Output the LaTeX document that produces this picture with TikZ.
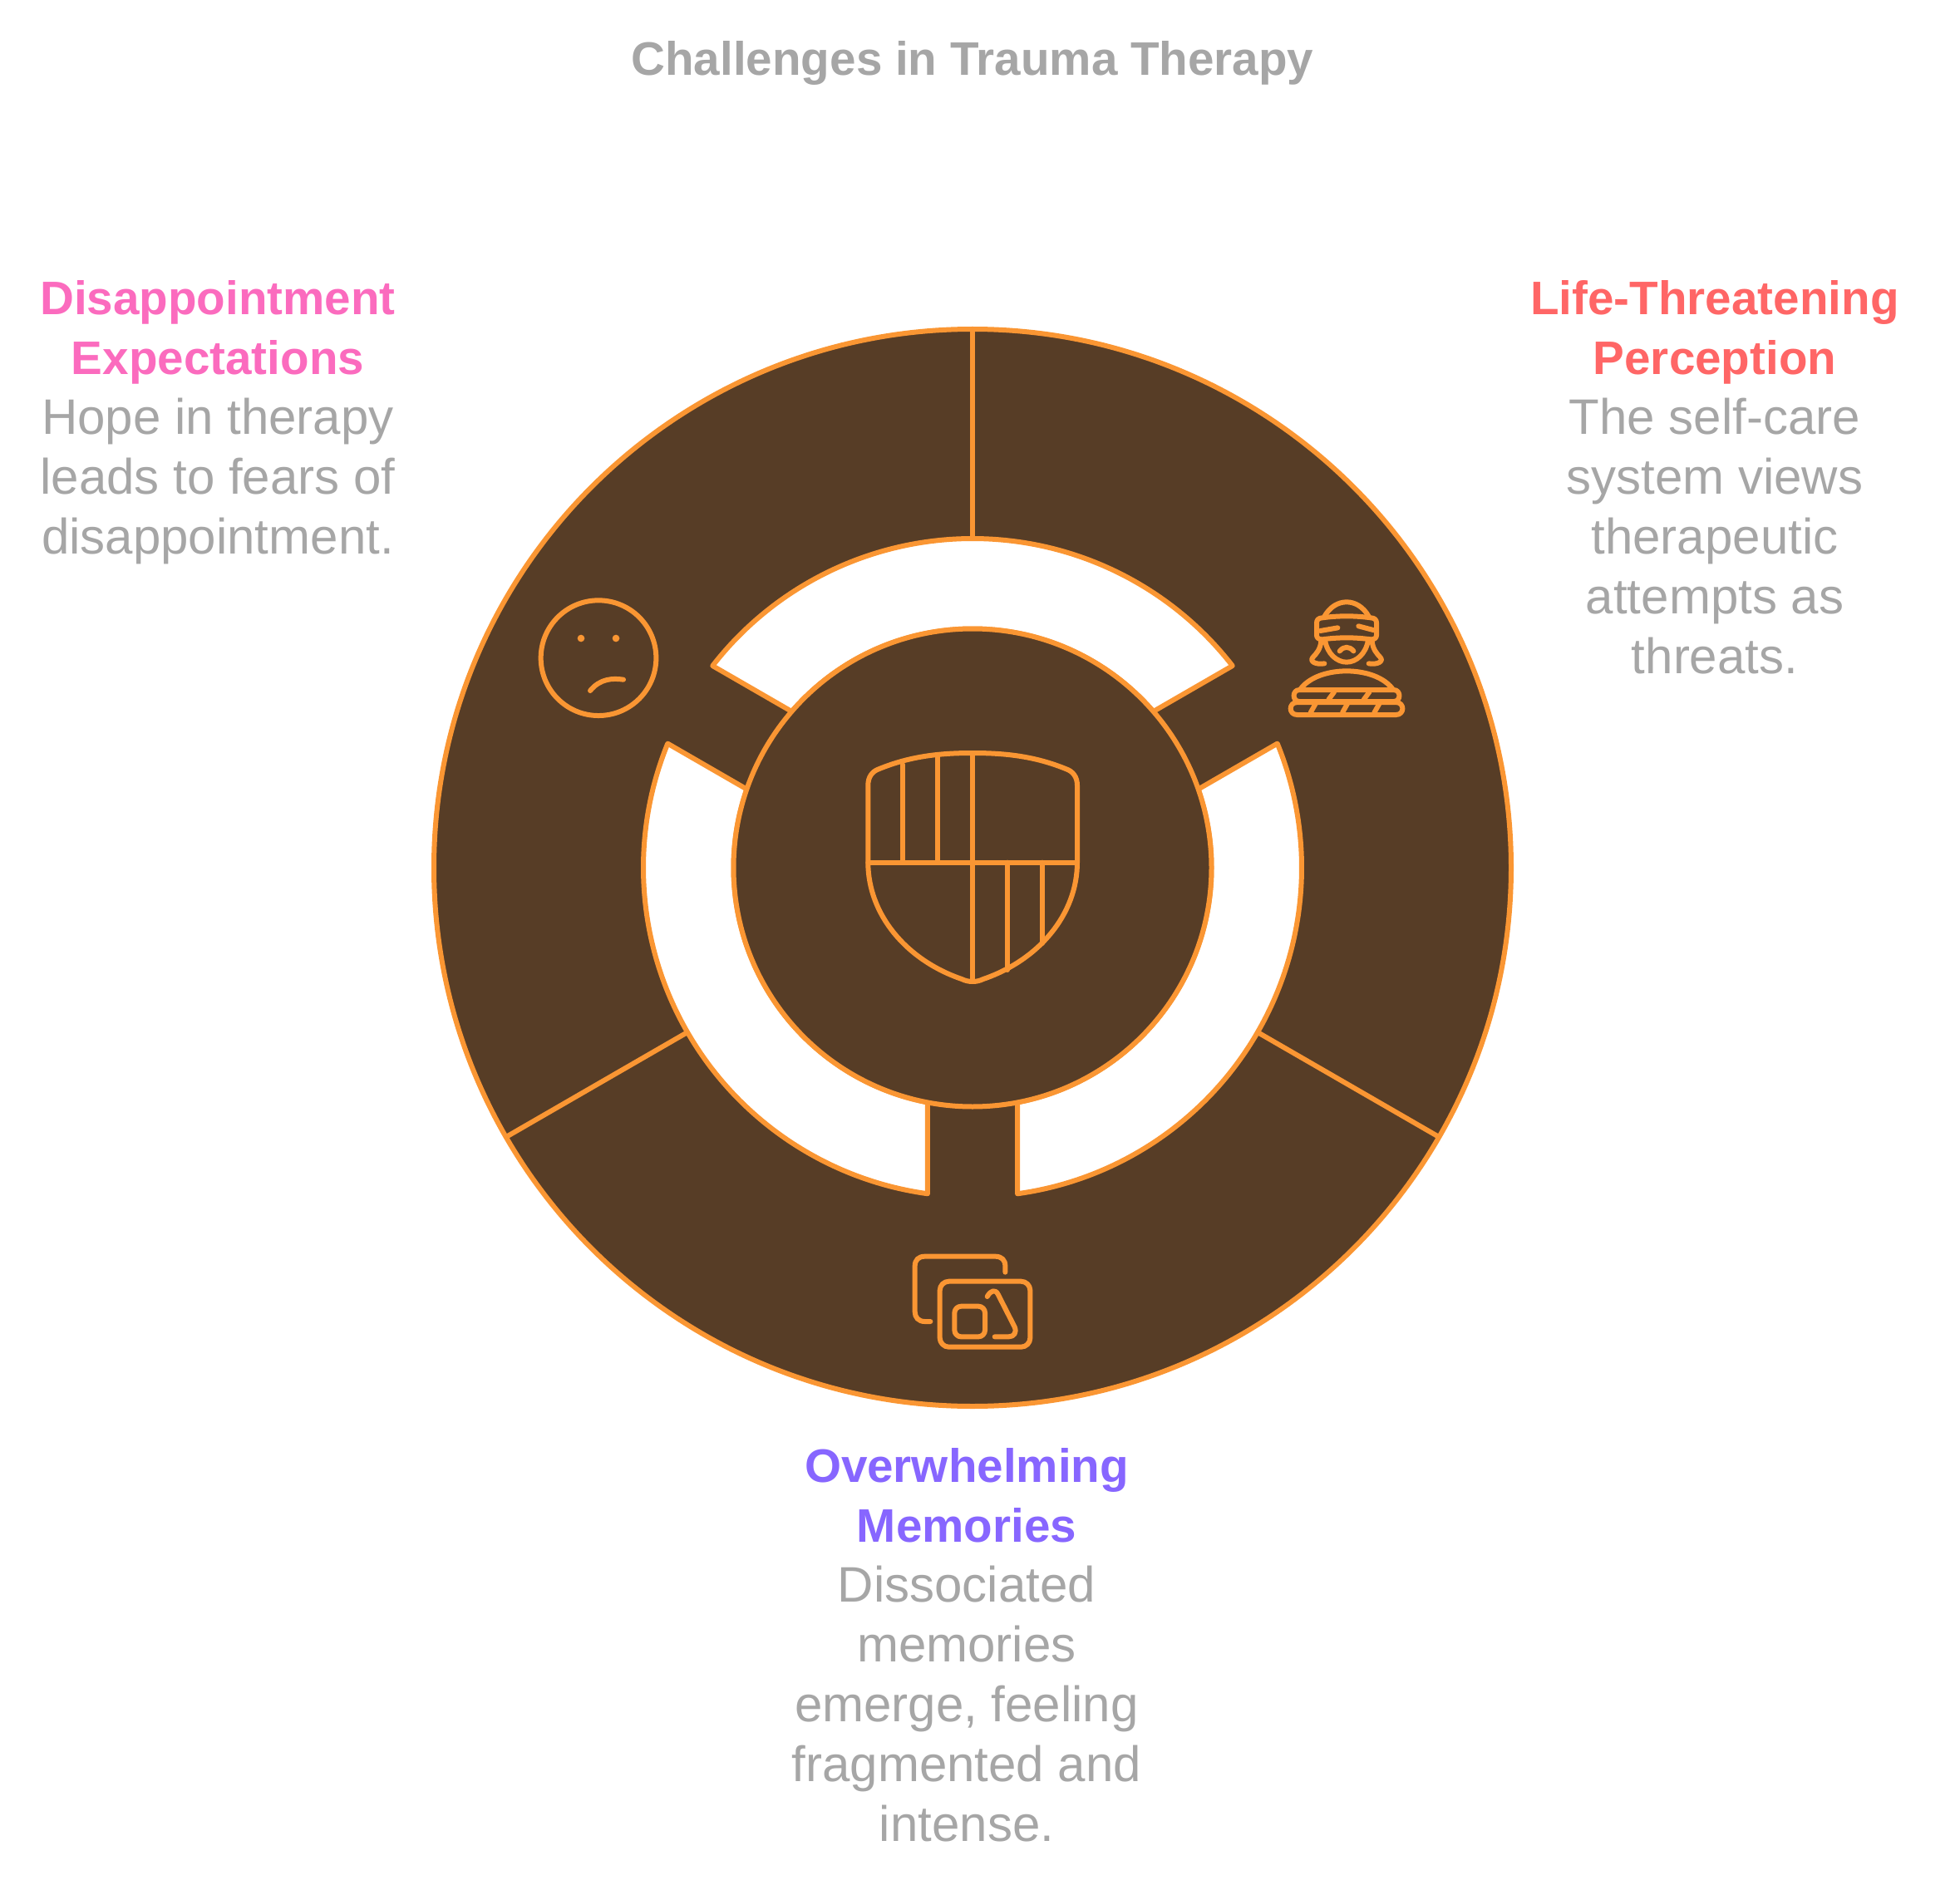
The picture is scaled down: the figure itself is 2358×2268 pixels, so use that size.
\documentclass[tikz,border=0pt]{standalone}
\usepackage{fontspec}
\setmainfont{Liberation Sans}
\definecolor{ringbrown}{HTML}{573D26}
\definecolor{ringorange}{HTML}{FA9633}
\definecolor{bodygrey}{HTML}{A6A6A6}
\definecolor{pinkhead}{HTML}{FB6BBE}
\definecolor{redhead}{HTML}{FF6666}
\definecolor{purplehead}{HTML}{8766FF}
\newcommand{\headfont}{\fontsize{28.3pt}{36pt}\selectfont\bfseries}
\tikzset{
  ringline/.style={draw=ringorange,line width=3pt,line join=round},
  iconline/.style={draw=ringorange,line width=3pt,line cap=round,line join=round},
  blocktext/.style={align=center,anchor=north,inner sep=0pt,text=bodygrey,font=\fontsize{30pt}{36pt}\selectfont},
  titletext/.style={anchor=center,inner sep=0pt,text=bodygrey,font=\fontsize{28.3pt}{36pt}\selectfont\bfseries},
}
\begin{document}
\begin{tikzpicture}[x=0.5pt,y=-0.5pt]
\useasboundingbox (0,0) rectangle (2358,2268);
% ring
\begin{scope}[shift={(1170,1044)},y=0.5pt]
  \fill[ringbrown] (0,0) circle [radius=648];
  \draw[ringline] (0,0) circle [radius=648];
  \foreach \r in {90,-30,210}{
    \draw[ringline] (\r:396) -- (\r:648);
  }
  \foreach \r in {90,-30,210}{
    \begin{scope}[rotate=\r-90]
      \filldraw[ringline,fill=white]
        (90-52.16:396) arc [start angle=37.84,end angle=142.16,radius=396]
        -- (90+49.17:287.5) arc [start angle=139.17,end angle=40.83,radius=287.5] -- cycle;
    \end{scope}
  }
  \filldraw[ringline,fill=ringbrown] (0,0) circle [radius=287.5];
\end{scope}
% shield
\draw[iconline] (1044.3,1037.7) -- (1044.3,945) .. controls (1044.3,935) and (1049,928) .. (1058,925)
  .. controls (1095,910) and (1130,906) .. (1170,906)
  .. controls (1210,906) and (1245,910) .. (1282,925)
  .. controls (1291,928) and (1296,935) .. (1296,945) -- (1296,1037.7)
  .. controls (1296,1100) and (1250,1155) .. (1183,1178)
  .. controls (1175,1182) and (1165,1182) .. (1157,1178)
  .. controls (1090,1155) and (1044.3,1100) .. (1044.3,1037.7) -- cycle;
\draw[iconline] (1044.3,1037.7) -- (1296,1037.7);
\draw[iconline] (1170,906) -- (1170,1181);
\draw[iconline] (1086,920) -- (1086,1037.7);
\draw[iconline] (1128,910) -- (1128,1037.7);
\draw[iconline] (1212,1037.7) -- (1212,1167);
\draw[iconline] (1254,1037.7) -- (1254,1135);
% sad face
\begin{scope}[shift={(630,700)},x=0.1667pt,y=-0.1667pt]
  \draw[iconline] (270,275) circle [radius=208];
  \fill[ringorange] (207,204) circle [radius=13];
  \fill[ringorange] (333,204) circle [radius=13];
  \draw[iconline] (240,393) .. controls (275,350) and (320,347) .. (360,353);
\end{scope}
% blindfolded figure
\begin{scope}[shift={(1520,690)},x=0.1667pt,y=-0.1667pt]
  \draw[iconline] (220,155) .. controls (240,120) and (270,103) .. (300,103) .. controls (330,103) and (360,120) .. (380,155);
  \draw[iconline] (212,160) .. controls (270,152) and (330,152) .. (388,160)
     .. controls (402,161) and (408,168) .. (408,178) -- (408,222)
     .. controls (408,232) and (402,238) .. (388,238)
     .. controls (330,230) and (270,230) .. (212,238)
     .. controls (198,238) and (192,232) .. (192,222) -- (192,178)
     .. controls (192,168) and (198,161) .. (212,160) -- cycle;
  \draw[iconline] (205,207) -- (268,196);
  \draw[iconline] (343,190) -- (400,205);
  \draw[iconline] (222,240) .. controls (230,290) and (265,320) .. (300,320) .. controls (335,320) and (370,290) .. (378,240);
  \draw[iconline] (275,280) .. controls (290,262) and (310,262) .. (325,280);
  \draw[iconline] (208,245) .. controls (205,275) and (190,290) .. (178,303) .. controls (165,318) and (190,330) .. (220,325);
  \draw[iconline] (392,245) .. controls (395,275) and (410,290) .. (422,303) .. controls (435,318) and (410,330) .. (380,325);
  \draw[iconline] (135,415) .. controls (175,365) and (250,352) .. (300,352) .. controls (350,352) and (425,365) .. (465,415);
  \draw[iconline] (130,420) -- (470,420) .. controls (497,420) and (497,462) .. (470,462) -- (130,462) .. controls (103,462) and (103,420) .. (130,420) -- cycle;
  \draw[iconline] (122,465) -- (478,465) .. controls (510,465) and (510,510) .. (478,510) -- (122,510) .. controls (90,510) and (90,465) .. (122,465) -- cycle;
  \draw[iconline] (235,455) -- (255,428);
  \draw[iconline] (362,455) -- (382,428);
  \draw[iconline] (170,502) -- (188,470);
  \draw[iconline] (285,502) -- (303,470);
  \draw[iconline] (400,502) -- (418,470);
\end{scope}
% memories icon
\begin{scope}[shift={(1060,1480)},x=0.1667pt,y=-0.1667pt]
  \draw[iconline] (178,330) -- (158,330) .. controls (135,330) and (122,315) .. (122,295) -- (122,130)
     .. controls (122,108) and (135,95) .. (158,95) -- (412,95)
     .. controls (435,95) and (448,108) .. (448,130) -- (448,152);
  \draw[iconline,rounded corners=5.5pt] (212,185) rectangle (538,422);
  \draw[iconline,rounded corners=4pt] (265,275) rectangle (375,385);
  \draw[iconline] (383,240) .. controls (395,218) and (412,212) .. (422,232) -- (482,350)
     .. controls (490,370) and (480,385) .. (460,385) -- (410,385);
\end{scope}
% text
\node[titletext] (title) at (1170,76) {Challenges in Trauma Therapy};
\node[blocktext] (left) at (262,337) {{\color{pinkhead}\headfont Disappointment}\\{\color{pinkhead}\headfont Expectations}\\Hope in therapy\\leads to fears of\\disappointment.};
\node[blocktext] (right) at (2063,337) {{\color{redhead}\headfont Life-Threatening}\\{\color{redhead}\headfont Perception}\\The self-care\\system views\\therapeutic\\attempts as\\threats.};
\node[blocktext] (bottom) at (1163,1742) {{\color{purplehead}\headfont Overwhelming}\\{\color{purplehead}\headfont Memories}\\Dissociated\\memories\\emerge, feeling\\fragmented and\\intense.};
\end{tikzpicture}
\end{document}
